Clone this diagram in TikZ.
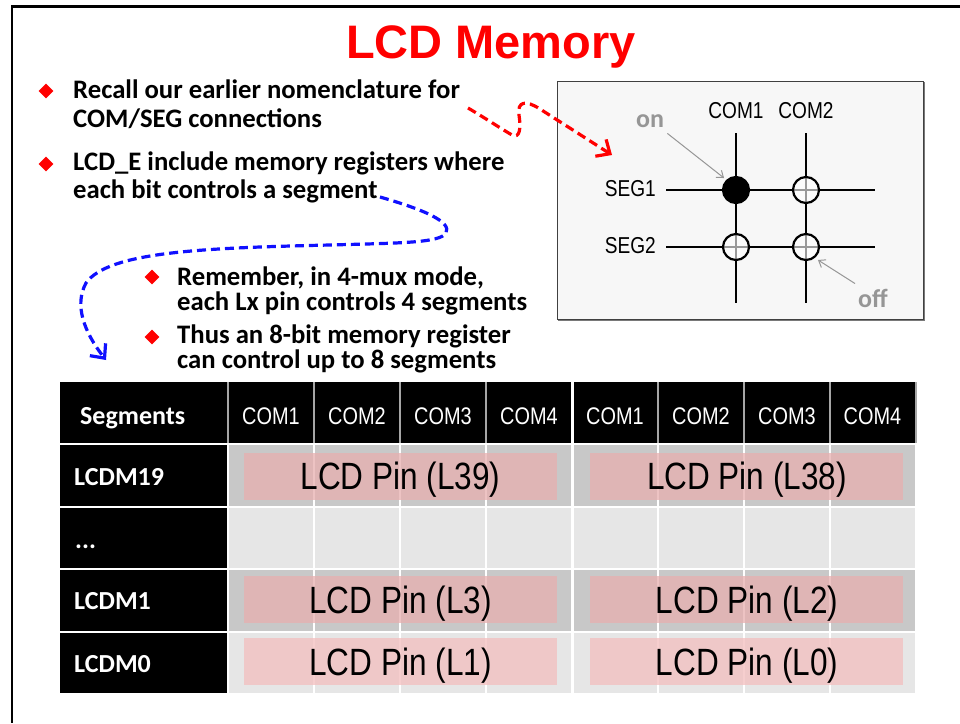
\documentclass[tikz,border=0pt]{standalone}
\usepackage{fontspec}
\setmainfont{Carlito}
\newfontfamily\arialfont{Liberation Sans}
\newfontfamily\narrowfont[FakeStretch=0.83]{Liberation Sans}
\usetikzlibrary{arrows.meta,shapes.geometric}
\definecolor{titlered}{HTML}{FF0000}
\definecolor{boxfill}{HTML}{F7F7F7}
\definecolor{boxedge}{HTML}{404040}
\definecolor{rowA}{HTML}{C8C8C8}
\definecolor{rowB}{HTML}{E6E6E6}
\definecolor{pinkA}{RGB}{231,175,175}
\definecolor{pinkB}{RGB}{243,190,190}
\definecolor{notegray}{HTML}{969696}
\definecolor{hdrsep}{HTML}{A6A6A6}
\definecolor{arrowblue}{HTML}{1010FF}
\begin{document}
\begin{tikzpicture}[x=1pt,y=-1pt,
  body/.style={font=\fontsize{26.7}{29}\selectfont\bfseries, anchor=base west, inner sep=0},
  bulletmark/.style={diamond, fill=titlered, minimum size=15, inner sep=0},
  celltext/.style={font=\fontsize{26}{29}\selectfont\bfseries, text=white, anchor=base west, inner sep=0},
  hdrtext/.style={font=\narrowfont\fontsize{24}{26}\selectfont, text=white, anchor=base, inner sep=0},
  pintext/.style={font=\narrowfont\fontsize{38}{40}\selectfont, text=black, anchor=base, inner sep=0},
  pinbox/.style={fill=#1, fill opacity=0.75, minimum width=313, minimum height=47, inner sep=0, anchor=north west},
  gridtext/.style={font=\narrowfont\fontsize{23}{24}\selectfont, text=black, inner sep=0},
  dot/.style={circle, minimum size=26, inner sep=0, line width=2.2, draw=black},
  note/.style={font=\fontsize{26}{27}\selectfont\bfseries, text=notegray, anchor=base west, inner sep=0},
  notearrow/.style={draw=notegray, line width=1, -{Straight Barb[length=6pt,width=9pt]}},
  fancyarrow/.style={line width=3.2, dash pattern=on 9pt off 5pt, -{Straight Barb[length=11pt,width=20pt,line width=3.2pt]}}
]
\useasboundingbox (0,0) rectangle (960,723);
\fill[white] (0,0) rectangle (960,723);
% frame
\draw[line width=2.2] (960,6.5) -- (12,6.5) -- (12,723);

% title
\node[font=\arialfont\bfseries\fontsize{47}{50}\selectfont, text=titlered, anchor=base, inner sep=0] (title) at (491,58) {LCD Memory};

% bullets
\node[bulletmark] (d1) at (46,91) {};
\node[body] (b1a) at (73,98) {Recall our earlier nomenclature for};
\node[body] (b1b) at (73,127) {COM/SEG connections};
\node[bulletmark] (d2) at (46,164) {};
\node[body] (b2a) at (73,170) {LCD\_E include memory registers where};
\node[body] (b2b) at (73,198) {each bit controls a segment};
\node[bulletmark] (d3) at (152,277) {};
\node[body] (s1a) at (177,285) {Remember, in 4-mux mode,};
\node[body] (s1b) at (177,310) {each Lx pin controls 4 segments};
\node[bulletmark] (d4) at (152,337) {};
\node[body] (s2a) at (177,343) {Thus an 8-bit memory register};
\node[body] (s2b) at (177,368) {can control up to 8 segments};

% COM/SEG box
\draw[boxedge!70, line width=2.5] (558,320) -- (924,320) -- (924,82);
\node[draw=boxedge, line width=1.2, fill=boxfill, minimum width=366, minimum height=238, inner sep=0, anchor=north west] (combox) at (557,81) {};
\node[gridtext, anchor=base] (com1) at (736,118) {COM1};
\node[gridtext, anchor=base] (com2) at (806,118) {COM2};
\node[gridtext, anchor=base east] (seg1) at (656,196) {SEG1};
\node[gridtext, anchor=base east] (seg2) at (656,253) {SEG2};
\coordinate (v1t) at (736,133); \coordinate (v1b) at (736,303);
\coordinate (v2t) at (806,133); \coordinate (v2b) at (806,303);
\coordinate (h1l) at (666,190); \coordinate (h1r) at (875,190);
\coordinate (h2l) at (666,247); \coordinate (h2r) at (875,247);
\draw[line width=1.3] (v1t) -- (v1b) (v2t) -- (v2b) (h1l) -- (h1r) (h2l) -- (h2r);
\node[dot, fill=black] (c11) at (736,190) {};
\node[dot, fill=white, fill opacity=0.6] (c12) at (806,190) {};
\node[dot, fill=white, fill opacity=0.6] (c21) at (736,247) {};
\node[dot, fill=white, fill opacity=0.6] (c22) at (806,247) {};
\node[note] (on) at (636,127) {on};
\node[note] (off) at (858,307) {off};
\draw[notearrow] ([shift={(3,6)}]on.south east) -- ([shift={(-2,-2)}]c11.north west);
\draw[notearrow] ([shift={(-3,-5)}]off.north west) -- ([shift={(2,3)}]c22.south east);

% red dashed arrow
\coordinate (redstart) at (468,108);
\coordinate (redend) at (612,155);
\draw[fancyarrow, titlered] (redstart) .. controls (485,118) and (500,128) .. (512,135)
  .. controls (520,139) and (521,128) .. (519,115)
  .. controls (517,101) and (526,100) .. (540,109) -- (redend);

% blue dashed arrow
\coordinate (bluestart) at (380,197);
\coordinate (blueend) at (106,360);
\draw[fancyarrow, arrowblue] (bluestart) .. controls (425,210) and (452,222) .. (446,233)
  .. controls (440,243) and (400,243) .. (330,245)
  .. controls (200,248) and (108,252) .. (86,283)
  .. controls (74,305) and (84,332) .. (blueend);

% table header
\fill[black] (60,382) rectangle (915,443);
\foreach \x in {228,314,400,486,658,744,830}
  \draw[hdrsep, line width=1.5] (\x,382) -- (\x,443);
\draw[white, line width=3] (572,382) -- (572,443);
\draw[hdrsep, line width=1.5] (916,382) -- (916,443);
\node[celltext] (segh) at (80,424) {Segments};
\foreach \i/\x/\k in {1/271/1,2/357/2,3/443/3,4/529/4,5/615/1,6/701/2,7/787/3,8/872.5/4}
  \node[hdrtext] (h\i) at (\x,424) {COM\k};

% table rows
\foreach \t/\b/\c in {445/506/rowA,508/568/rowB,570/631/rowA,633/693/rowB}{
  \fill[\c] (229,\t) rectangle (915,\b);
  \fill[black] (60,\t) rectangle (227,\b);
}
\foreach \x in {314,400,486,658,744,830}
  \draw[white, line width=1.5] (\x,445) -- (\x,693);
\draw[white, line width=3] (572,445) -- (572,693);

\node[celltext] (m19) at (74,485) {LCDM19};
\node[celltext] (mdots) at (75,548) {...};
\node[celltext] (m1) at (74,609) {LCDM1};
\node[celltext] (m0) at (74,672) {LCDM0};

\node[pinbox=pinkA] (p39) at (244,453) {};
\node[pinbox=pinkA] (p38) at (590,453) {};
\node[pinbox=pinkA] (p3) at (244,576) {};
\node[pinbox=pinkA] (p2) at (590,576) {};
\node[pinbox=pinkB] (p1) at (244,638) {};
\node[pinbox=pinkB] (p0) at (590,638) {};
\node[pintext] (t39) at (400.5,489) {LCD Pin (L39)};
\node[pintext] (t38) at (747,489) {LCD Pin (L38)};
\node[pintext] (t3) at (400.5,613) {LCD Pin (L3)};
\node[pintext] (t2) at (747,613) {LCD Pin (L2)};
\node[pintext] (t1) at (400.5,675) {LCD Pin (L1)};
\node[pintext] (t0) at (747,675) {LCD Pin (L0)};
\end{tikzpicture}
\end{document}
